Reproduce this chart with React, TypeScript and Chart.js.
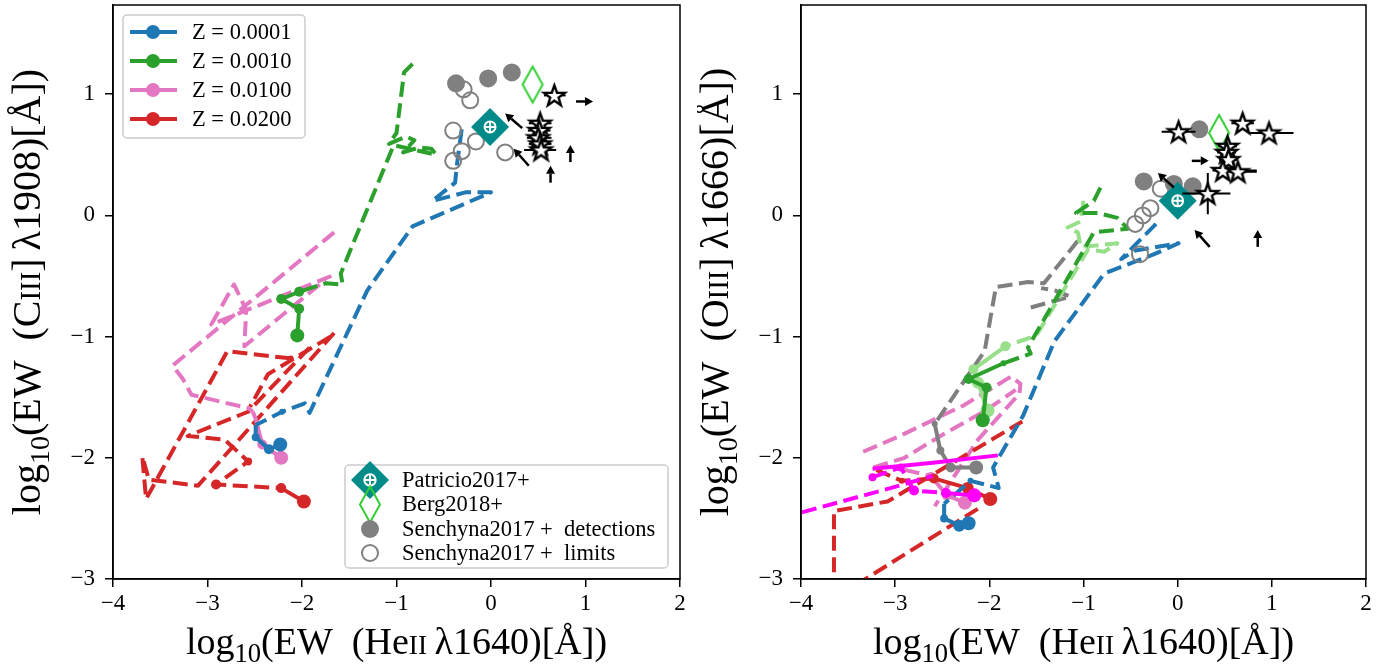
import React, { useEffect, useRef } from "react";
import { Chart, registerables } from "chart.js";
Chart.register(...registerables);

// ---------------- data ----------------
const X_TICKS = [-4, -3, -2, -1, 0, 1, 2];
const Y_TICKS = [-3, -2, -1, 0, 1];
const X_MIN = -4, X_MAX = 2, Y_MIN = -3, Y_MAX = 1.736;

const metallicityLabels = ["Z = 0.0001", "Z = 0.0010", "Z = 0.0100", "Z = 0.0200"];
const obsLabels = ["Patricio2017+", "Berg2018+", "Senchyna2017 +  detections", "Senchyna2017 +  limits"];

// left panel: log EW(HeII) vs log EW(CIII])
const leftBlue = [[-0.31, 0.71], [-0.36, 0.42], [-0.38, 0.27], [-0.62, 0.12], [-0.27, 0.19], [0.0, 0.19], [-0.83, -0.09], [-1.31, -0.62], [-1.92, -1.63], [-1.97, -1.55], [-2.21, -1.62], [-2.49, -1.73], [-2.49, -1.83], [-2.35, -1.93], [-2.23, -1.89]];
const leftGreen = [[-0.83, 1.25], [-0.92, 1.18], [-1.0, 0.68], [-1.08, 0.59], [-0.9, 0.65], [-0.81, 0.62], [-0.93, 0.52], [-0.76, 0.56], [-0.63, 0.55], [-0.58, 0.5], [-1.03, 0.58], [-1.59, -0.48], [-1.57, -0.57], [-1.75, -0.56], [-2.03, -0.63], [-2.22, -0.69], [-2.03, -0.77], [-2.05, -0.99]];
const leftPink1 = [[-1.66, -0.14], [-3.37, -1.24], [-3.26, -1.35], [-3.17, -1.48], [-2.57, -1.59], [-2.52, -1.62], [-2.49, -1.68], [-2.42, -1.89], [-2.22, -2.0]];
const leftPink2 = [[-1.69, -0.5], [-2.96, -0.9], [-2.72, -0.57], [-2.59, -0.78], [-2.61, -1.08], [-1.75, -0.53]];
const leftRed1 = [[-1.66, -0.97], [-3.1, -2.23], [-3.62, -2.18], [-3.69, -1.99], [-3.65, -2.34], [-2.79, -1.12], [-2.12, -1.18]];
const leftRed2 = [[-1.92, -1.09], [-2.57, -1.62], [-3.21, -1.82], [-2.82, -1.85], [-2.68, -1.95], [-2.57, -2.03], [-2.91, -2.22], [-2.22, -2.25], [-1.98, -2.36]];
const leftRed3 = [[-1.7, -1.0], [-2.36, -1.31], [-2.55, -1.58]];

const leftDetX = [-0.37, -0.03, 0.22];
const leftDetY = [1.09, 1.13, 1.18];
const leftLimX = [-0.29, -0.22, -0.4, -0.31, -0.4, -0.16, 0.15];
const leftLimY = [1.04, 0.95, 0.7, 0.53, 0.45, 0.61, 0.52];
const leftPatricio = [-0.01, 0.73];
const leftBerg = [0.44, 1.08];
const leftStarX = [0.67, 0.52, 0.51, 0.5, 0.52, 0.53];
const leftStarY = [0.99, 0.76, 0.7, 0.64, 0.59, 0.54];
const leftStarXerrLo = [0.11, 0.12, 0.12, 0.12, 0.12, 0.18];
const leftStarXerrHi = [0.12, 0.12, 0.12, 0.14, 0.12, 0.16];
const leftStarYerr = [0, 0, 0, 0, 0, 0];
const leftArrowTail = [[0.9, 0.94], [0.33, 0.72], [0.4, 0.41], [0.84, 0.44], [0.63, 0.27]];
const leftArrowHead = [[1.08, 0.94], [0.15, 0.84], [0.24, 0.55], [0.84, 0.58], [0.63, 0.41]];

// right panel: log EW(HeII) vs log EW(OIII])
const rightBlue = [[-0.23, -0.07], [-0.6, -0.36], [-0.45, -0.29], [0.01, -0.23], [-0.25, -0.32], [-0.78, -0.48], [-1.31, -1.04], [-1.64, -1.65], [-1.96, -2.08], [-1.9, -2.25], [-2.2, -2.19], [-2.48, -2.38], [-2.48, -2.5], [-2.32, -2.56], [-2.22, -2.54]];
const rightGreen = [[-0.82, 0.23], [-0.89, 0.12], [-1.08, 0.02], [-0.85, 0.02], [-0.64, -0.02], [-0.53, -0.11], [-0.89, -0.14], [-1.59, -1.09], [-1.56, -1.14], [-1.85, -1.22], [-2.22, -1.35], [-2.03, -1.42], [-2.07, -1.69]];
const rightLightGreen = [[-1.0, 0.12], [-1.03, -0.05], [-1.17, -0.1], [-1.06, -0.14], [-1.03, -0.26], [-0.64, -0.23], [-0.78, -0.3], [-0.95, -0.28], [-1.5, -0.99], [-1.83, -1.08], [-2.17, -1.27], [-2.12, -1.38], [-2.02, -1.61]];
const rightGray1 = [[-1.06, -0.21], [-1.42, -0.56], [-1.59, -0.55], [-1.93, -0.59], [-2.05, -1.12], [-2.58, -1.72], [-2.52, -1.94], [-2.41, -2.08], [-2.14, -2.08]];
const rightGray2 = [[-1.56, -0.76], [-1.14, -0.67], [-1.3, -0.62], [-1.45, -0.6]];
const rightPink1 = [[-3.34, -1.95], [-2.95, -1.82], [-2.28, -1.57], [-1.77, -1.33], [-1.67, -1.39], [-1.68, -1.47], [-2.12, -1.85], [-2.58, -2.4]];
const rightPink2 = [[-3.23, -2.08], [-2.9, -2.0], [-2.52, -1.82], [-2.06, -1.62], [-1.72, -1.44]];
const rightPink3 = [[-2.9, -2.1], [-2.62, -2.15], [-2.45, -2.31], [-2.26, -2.37]];
const rightRed1 = [[-3.65, -3.3], [-3.65, -2.44], [-3.08, -2.36], [-1.65, -1.7]];
const rightRed2 = [[-3.42, -3.05], [-2.12, -2.42]];
const rightRed3 = [[-3.2, -2.1], [-2.93, -2.19], [-2.59, -2.17], [-2.23, -2.25], [-1.99, -2.34]];
const rightMagenta1 = [[-3.99, -2.45], [-3.05, -2.25], [-2.6, -2.15]];
const rightMagenta2 = [[-3.24, -2.09], [-2.6, -2.04], [-1.91, -1.98]];
const rightMagenta3 = [[-3.24, -2.16], [-2.94, -2.08], [-2.8, -2.27], [-2.46, -2.29], [-2.16, -2.31]];

const rightDetX = [-0.36, -0.04, 0.16, 0.23];
const rightDetY = [0.28, 0.26, 0.24, 0.71];
const rightLimX = [-0.18, -0.29, -0.37, -0.45, -0.4];
const rightLimY = [0.22, 0.06, 0.0, -0.07, -0.32];
const rightPatricio = [0.0, 0.12];
const rightBerg = [0.44, 0.68];
const rightStarX = [0.01, 0.69, 0.97, 0.53, 0.52, 0.54, 0.48, 0.64, 0.32];
const rightStarY = [0.69, 0.76, 0.68, 0.57, 0.52, 0.46, 0.37, 0.36, 0.18];
const rightStarXerrLo = [0.18, 0.12, 0.22, 0.1, 0.1, 0.1, 0.11, 0.1, 0.27];
const rightStarXerrHi = [0.18, 0.12, 0.26, 0.1, 0.1, 0.1, 0.36, 0.2, 0.24];
const rightStarYerr = [0, 0, 0, 0.05, 0.05, 0.05, 0, 0, 0.17];
const rightArrowTail = [[0.15, 0.45], [-0.04, 0.23], [0.34, -0.26], [0.85, -0.26]];
const rightArrowHead = [[0.33, 0.45], [-0.21, 0.35], [0.18, -0.12], [0.85, -0.12]];

// ---------------- styles ----------------
const FONT = "'Liberation Serif', 'DejaVu Serif', serif";
const COL = {
  blue: "#1f77b4", green: "#2ca02c", lightGreen: "#98df8a", pink: "#e377c2", red: "#d62728",
  gray: "#7f7f7f", magenta: "#ff00ff", teal: "#008b8b", lime: "#32cd32", obs: "#808080",
};
const DASH = [15, 6.5];

interface TrackSpec { pts: number[][]; color: string; markers?: number[]; solid?: number; dashed?: boolean }

const leftTracks: TrackSpec[] = [
  { pts: leftRed1, color: COL.red, markers: [3], solid: 0 },
  { pts: leftRed3, color: COL.red, markers: [0], solid: 0 },
  { pts: leftRed2, color: COL.red, markers: [4, 5, 5, 7], solid: 1 },
  { pts: leftPink2, color: COL.pink, markers: [], solid: 0 },
  { pts: leftPink1, color: COL.pink, markers: [5, 7], solid: 3 },
  { pts: leftBlue, color: COL.blue, markers: [3, 0, 4, 5, 7], solid: 3 },
  { pts: leftGreen, color: COL.green, markers: [5, 5, 5, 7], solid: 3 },
];
const rightTracks: TrackSpec[] = [
  { pts: rightPink1, color: COL.pink, solid: 0 },
  { pts: rightPink2, color: COL.pink, solid: 0 },
  { pts: rightPink3, color: COL.pink, markers: [0, 4, 5, 7], solid: 2 },
  { pts: rightRed1, color: COL.red, solid: 0 },
  { pts: rightRed2, color: COL.red, solid: 0 },
  { pts: rightRed3, color: COL.red, markers: [3, 5, 6, 7], solid: 2 },
  { pts: rightBlue, color: COL.blue, markers: [3, 0, 4, 6, 7], solid: 3 },
  { pts: rightGray2, color: COL.gray, solid: 0 },
  { pts: rightGray1, color: COL.gray, markers: [3, 4, 5, 7], solid: 3 },
  { pts: rightLightGreen, color: COL.lightGreen, markers: [5, 5, 6, 7], solid: 3 },
  { pts: rightGreen, color: COL.green, markers: [3, 5, 5, 7], solid: 3 },
  { pts: rightMagenta1, color: COL.magenta, solid: 0 },
  { pts: rightMagenta2, color: COL.magenta, dashed: false },
  { pts: rightMagenta3, color: COL.magenta, markers: [4, 4, 5, 5, 7], solid: 1 },
];

type Run = [string, number, number];
const xTitleRuns: Run[] = [["log", 1, 0], ["10", 0.7, 0.22], ["(EW\u2002(He", 1, 0], ["II", 0.72, 0], ["\u2009\u03bb1640)[\u00c5])", 1, 0]];
const leftYTitleRuns: Run[] = [["log", 1, 0], ["10", 0.7, 0.22], ["(EW\u2002(C", 1, 0], ["III", 0.72, 0], ["]\u2009\u03bb1908)[\u00c5])", 1, 0]];
const rightYTitleRuns: Run[] = [["log", 1, 0], ["10", 0.7, 0.22], ["(EW\u2002(O", 1, 0], ["III", 0.72, 0], ["]\u2009\u03bb1666)[\u00c5])", 1, 0]];

function fmt(v: number) {
  return v < 0 ? "\u2212" + Math.abs(v) : String(v);
}

function makeStar(R: number, lw: number) {
  const size = Math.ceil(2 * R + 2 * lw + 2);
  const c = document.createElement("canvas");
  c.width = size; c.height = size;
  const ctx = c.getContext("2d")!;
  const cx = size / 2, cy = size / 2 + 0.8, r = R * 0.4;
  ctx.beginPath();
  for (let i = 0; i < 10; i++) {
    const a = -Math.PI / 2 + (i * Math.PI) / 5;
    const rr = i % 2 ? r : R;
    ctx.lineTo(cx + rr * Math.cos(a), cy + rr * Math.sin(a));
  }
  ctx.closePath();
  ctx.fillStyle = "#fff"; ctx.fill();
  ctx.lineWidth = lw; ctx.strokeStyle = "#000"; ctx.lineJoin = "miter"; ctx.stroke();
  return c;
}

function thinDiamondPath(ctx: CanvasRenderingContext2D, x: number, y: number, hw: number, hh: number) {
  ctx.beginPath();
  ctx.moveTo(x, y - hh); ctx.lineTo(x + hw, y); ctx.lineTo(x, y + hh); ctx.lineTo(x - hw, y); ctx.closePath();
}

function makeThinDiamond(hw: number, hh: number, lw: number, color: string) {
  const c = document.createElement("canvas");
  c.width = Math.ceil(2 * hw + 2 * lw + 2); c.height = Math.ceil(2 * hh + 2 * lw + 2);
  const ctx = c.getContext("2d")!;
  thinDiamondPath(ctx, c.width / 2, c.height / 2, hw, hh);
  ctx.lineWidth = lw; ctx.strokeStyle = color; ctx.lineJoin = "miter"; ctx.stroke();
  return c;
}

function drawPatricio(ctx: CanvasRenderingContext2D, x: number, y: number, r: number) {
  ctx.beginPath();
  ctx.moveTo(x, y - r); ctx.lineTo(x + r, y); ctx.lineTo(x, y + r); ctx.lineTo(x - r, y); ctx.closePath();
  ctx.fillStyle = COL.teal; ctx.fill();
  ctx.strokeStyle = "#fff"; ctx.lineWidth = 2;
  ctx.beginPath(); ctx.arc(x, y, r * 0.3, 0, Math.PI * 2); ctx.stroke();
  ctx.beginPath(); ctx.moveTo(x - r * 0.3, y); ctx.lineTo(x + r * 0.3, y); ctx.moveTo(x, y - r * 0.3); ctx.lineTo(x, y + r * 0.3); ctx.stroke();
}

function drawRich(ctx: CanvasRenderingContext2D, runs: Run[], x: number, y: number, size: number, rotate: boolean) {
  ctx.save();
  ctx.translate(x, y);
  if (rotate) ctx.rotate(-Math.PI / 2);
  ctx.textBaseline = "alphabetic";
  ctx.textAlign = "left";
  ctx.fillStyle = "#000";
  let total = 0;
  const widths = runs.map(([t, s]) => {
    ctx.font = `${size * s}px ${FONT}`;
    const w = ctx.measureText(t).width;
    total += w;
    return w;
  });
  let cx = -total / 2;
  runs.forEach(([t, s, dy], i) => {
    ctx.font = `${size * s}px ${FONT}`;
    ctx.fillText(t, cx, dy * size);
    cx += widths[i];
  });
  ctx.restore();
}

function roundRect(ctx: CanvasRenderingContext2D, x: number, y: number, w: number, h: number, r: number) {
  ctx.beginPath();
  ctx.moveTo(x + r, y);
  ctx.arcTo(x + w, y, x + w, y + h, r);
  ctx.arcTo(x + w, y + h, x, y + h, r);
  ctx.arcTo(x, y + h, x, y, r);
  ctx.arcTo(x, y, x + w, y, r);
  ctx.closePath();
}

function trackDataset(t: TrackSpec, order: number) {
  const n = t.pts.length;
  const m = t.markers ?? [];
  const k = m.length;
  const solid = t.solid ?? 0;
  const dash = t.dashed === false ? [] : DASH;
  return {
    data: t.pts.map((p) => ({ x: p[0], y: p[1] })),
    showLine: true,
    borderColor: t.color,
    backgroundColor: t.color,
    borderWidth: 4,
    borderDash: dash,
    borderCapStyle: "butt",
    borderJoinStyle: "round",
    segment: {
      borderDash: (ctx: any) => (ctx.p0DataIndex >= n - 1 - solid ? [] : dash),
    },
    pointRadius: (ctx: any) => {
      const j = ctx.dataIndex - (n - k);
      return j >= 0 ? m[j] : 0;
    },
    pointBorderWidth: 0,
    pointHoverRadius: 0,
    order,
  };
}

interface PanelSpec {
  tracks: TrackSpec[];
  detX: number[]; detY: number[];
  limX: number[]; limY: number[];
  patricio: number[]; berg: number[];
  starX: number[]; starY: number[]; starXLo: number[]; starXHi: number[]; starYErr: number[];
  arrowTail: number[][]; arrowHead: number[][];
  yRuns: Run[];
  yScaleWidth: number;
  padRight: number;
  legends: boolean;
}

function buildConfig(p: PanelSpec) {
  const star = makeStar(11, 2.4);
  const berg = makeThinDiamond(10, 18, 2, COL.lime);
  const datasets: any[] = [];
  p.tracks.forEach((t, i) => datasets.push(trackDataset(t, 100 - i)));
  datasets.push({
    data: p.detX.map((x, i) => ({ x, y: p.detY[i] })),
    pointRadius: 9, pointBackgroundColor: COL.obs, pointBorderWidth: 0, pointHoverRadius: 0, order: 6,
  });
  datasets.push({
    data: p.limX.map((x, i) => ({ x, y: p.limY[i] })),
    pointRadius: 8, pointBackgroundColor: "rgba(0,0,0,0)", pointBorderColor: COL.obs, pointBorderWidth: 2, pointHoverRadius: 0, order: 5,
  });
  datasets.push({
    data: [{ x: p.patricio[0], y: p.patricio[1] }],
    pointStyle: "rectRot", pointRadius: 19, pointBackgroundColor: COL.teal, pointBorderWidth: 0, pointHoverRadius: 0, order: 4,
  });
  datasets.push({
    data: [{ x: p.patricio[0], y: p.patricio[1] }],
    pointStyle: "circle", pointRadius: 5.5, pointBackgroundColor: "rgba(0,0,0,0)", pointBorderColor: "#fff", pointBorderWidth: 2, pointHoverRadius: 0, order: 3,
  });
  datasets.push({
    data: [{ x: p.patricio[0], y: p.patricio[1] }],
    pointStyle: "cross", pointRadius: 5.5, pointBorderColor: "#fff", pointBorderWidth: 2, pointHoverRadius: 0, order: 3,
  });
  datasets.push({
    data: [{ x: p.berg[0], y: p.berg[1] }],
    pointStyle: berg, pointRadius: 18, pointHoverRadius: 0, order: 2,
  });
  const starIndex = datasets.length;
  datasets.push({
    data: p.starX.map((x, i) => ({ x, y: p.starY[i] })),
    pointStyle: star, pointRadius: 11, pointHoverRadius: 0, order: 1,
  });

  const plugin = {
    id: "panelDecor",
    beforeDatasetDraw(chart: any, args: any) {
      if (args.index !== starIndex) return;
      const ctx = chart.ctx as CanvasRenderingContext2D;
      const xs = chart.scales.x, ys = chart.scales.y;
      ctx.save();
      ctx.strokeStyle = "#000"; ctx.lineWidth = 2;
      p.starX.forEach((x, i) => {
        const y = p.starY[i];
        ctx.beginPath();
        ctx.moveTo(xs.getPixelForValue(x - p.starXLo[i]), ys.getPixelForValue(y));
        ctx.lineTo(xs.getPixelForValue(x + p.starXHi[i]), ys.getPixelForValue(y));
        if (p.starYErr[i] > 0) {
          ctx.moveTo(xs.getPixelForValue(x), ys.getPixelForValue(y - p.starYErr[i]));
          ctx.lineTo(xs.getPixelForValue(x), ys.getPixelForValue(y + p.starYErr[i]));
        }
        ctx.stroke();
      });
      ctx.restore();
    },
    afterDatasetsDraw(chart: any) {
      const ctx = chart.ctx as CanvasRenderingContext2D;
      const xs = chart.scales.x, ys = chart.scales.y;
      const a = chart.chartArea;
      ctx.save();
      // arrows (limits)
      ctx.strokeStyle = "#000"; ctx.fillStyle = "#000"; ctx.lineWidth = 2.5;
      p.arrowTail.forEach((t, i) => {
        const h = p.arrowHead[i];
        const x0 = xs.getPixelForValue(t[0]), y0 = ys.getPixelForValue(t[1]);
        const x1 = xs.getPixelForValue(h[0]), y1 = ys.getPixelForValue(h[1]);
        const ang = Math.atan2(y1 - y0, x1 - x0);
        const hl = 8, hw = 4.5;
        const bx = x1 - hl * Math.cos(ang), by = y1 - hl * Math.sin(ang);
        ctx.beginPath(); ctx.moveTo(x0, y0); ctx.lineTo(bx, by); ctx.stroke();
        ctx.beginPath();
        ctx.moveTo(x1, y1);
        ctx.lineTo(bx + hw * Math.sin(ang), by - hw * Math.cos(ang));
        ctx.lineTo(bx - hw * Math.sin(ang), by + hw * Math.cos(ang));
        ctx.closePath(); ctx.fill();
      });
      // frame
      ctx.strokeStyle = "#000"; ctx.lineWidth = 1.5;
      ctx.strokeRect(a.left, a.top, a.right - a.left, a.bottom - a.top);

      if (p.legends) {
        // metallicity legend (upper left)
        const colors = [COL.blue, COL.green, COL.pink, COL.red];
        let bx = a.left + 10, by = a.top + 10;
        roundRect(ctx, bx, by, 182, 123, 4);
        ctx.fillStyle = "rgba(255,255,255,0.8)"; ctx.fill();
        ctx.strokeStyle = "#cccccc"; ctx.lineWidth = 1.5; ctx.stroke();
        ctx.font = `22.5px ${FONT}`; ctx.textBaseline = "middle"; ctx.textAlign = "left";
        metallicityLabels.forEach((lab, i) => {
          const yy = by + 17 + i * 29;
          ctx.strokeStyle = colors[i]; ctx.lineWidth = 4;
          ctx.beginPath(); ctx.moveTo(bx + 7, yy); ctx.lineTo(bx + 54, yy); ctx.stroke();
          ctx.fillStyle = colors[i];
          ctx.beginPath(); ctx.arc(bx + 30, yy, 7, 0, Math.PI * 2); ctx.fill();
          ctx.fillStyle = "#000";
          ctx.fillText(lab, bx + 69, yy + 1);
        });
        // observation legend (lower right)
        bx = a.right - 335; by = a.bottom - 114;
        roundRect(ctx, bx, by, 323, 103, 4);
        ctx.fillStyle = "rgba(255,255,255,0.8)"; ctx.fill();
        ctx.strokeStyle = "#cccccc"; ctx.lineWidth = 1.5; ctx.stroke();
        const rows = [15, 39.5, 64, 88];
        const mx = bx + 25;
        drawPatricio(ctx, mx, by + rows[0], 19);
        thinDiamondPath(ctx, mx, by + rows[1], 10, 18);
        ctx.strokeStyle = COL.lime; ctx.lineWidth = 2; ctx.stroke();
        ctx.fillStyle = COL.obs;
        ctx.beginPath(); ctx.arc(mx, by + rows[2], 9, 0, Math.PI * 2); ctx.fill();
        ctx.strokeStyle = COL.obs; ctx.lineWidth = 2;
        ctx.beginPath(); ctx.arc(mx, by + rows[3], 8, 0, Math.PI * 2); ctx.stroke();
        ctx.fillStyle = "#000"; ctx.font = `22.5px ${FONT}`; ctx.textBaseline = "middle";
        obsLabels.forEach((lab, i) => ctx.fillText(lab, bx + 57, by + rows[i] + 1));
      }
      ctx.restore();
    },
    afterDraw(chart: any) {
      const ctx = chart.ctx as CanvasRenderingContext2D;
      const a = chart.chartArea;
      drawRich(ctx, xTitleRuns, (a.left + a.right) / 2, a.bottom + 75, 38, false);
      drawRich(ctx, p.yRuns, a.left - 73, (a.top + a.bottom) / 2, 40, true);
    },
  };

  const tickFont = { family: FONT, size: 23 };
  return {
    type: "scatter",
    data: { datasets },
    options: {
      responsive: false,
      animation: false,
      events: [],
      layout: { autoPadding: false, padding: { top: 5, right: p.padRight, bottom: 0, left: 0 } },
      plugins: { legend: { display: false }, tooltip: { enabled: false }, title: { display: false } },
      scales: {
        x: {
          type: "linear", min: X_MIN, max: X_MAX,
          afterBuildTicks: (s: any) => { s.ticks = X_TICKS.map((v) => ({ value: v })); },
          afterFit: (s: any) => { s.height = 92; s.paddingLeft = 0; s.paddingRight = 0; s.paddingTop = 0; s.paddingBottom = 0; },
          ticks: { font: tickFont, color: "#000", padding: 3, maxRotation: 0, autoSkip: false, callback: (v: any) => fmt(Number(v)) },
          grid: { drawOnChartArea: false, drawTicks: true, tickLength: 8, color: "#000", lineWidth: 1.5 },
          border: { display: true, color: "#000", width: 1.5 },
        },
        y: {
          type: "linear", min: Y_MIN, max: Y_MAX,
          afterBuildTicks: (s: any) => { s.ticks = Y_TICKS.map((v) => ({ value: v })); },
          afterFit: (s: any) => { s.width = p.yScaleWidth; s.paddingLeft = 0; s.paddingRight = 0; s.paddingTop = 0; s.paddingBottom = 0; },
          ticks: { font: tickFont, color: "#000", padding: 10, autoSkip: false, callback: (v: any) => fmt(Number(v)) },
          grid: { drawOnChartArea: false, drawTicks: true, tickLength: 8, color: "#000", lineWidth: 1.5 },
          border: { display: true, color: "#000", width: 1.5 },
        },
      },
    },
    plugins: [plugin],
  };
}

export default function App() {
  const leftRef = useRef<HTMLCanvasElement>(null);
  const rightRef = useRef<HTMLCanvasElement>(null);

  useEffect(() => {
    const left = new Chart(leftRef.current as HTMLCanvasElement, buildConfig({
      tracks: leftTracks,
      detX: leftDetX, detY: leftDetY, limX: leftLimX, limY: leftLimY,
      patricio: leftPatricio, berg: leftBerg,
      starX: leftStarX, starY: leftStarY, starXLo: leftStarXerrLo, starXHi: leftStarXerrHi, starYErr: leftStarYerr,
      arrowTail: leftArrowTail, arrowHead: leftArrowHead,
      yRuns: leftYTitleRuns, yScaleWidth: 113, padRight: 17, legends: true,
    }) as any);
    const right = new Chart(rightRef.current as HTMLCanvasElement, buildConfig({
      tracks: rightTracks,
      detX: rightDetX, detY: rightDetY, limX: rightLimX, limY: rightLimY,
      patricio: rightPatricio, berg: rightBerg,
      starX: rightStarX, starY: rightStarY, starXLo: rightStarXerrLo, starXHi: rightStarXerrHi, starYErr: rightStarYerr,
      arrowTail: rightArrowTail, arrowHead: rightArrowHead,
      yRuns: rightYTitleRuns, yScaleWidth: 104, padRight: 28, legends: false,
    }) as any);
    return () => { left.destroy(); right.destroy(); };
  }, []);

  return (
    <div style={{ position: "fixed", left: 0, top: 0, width: 1394, height: 671, background: "#fff" }}>
      <canvas ref={leftRef} width={697} height={671} style={{ position: "absolute", left: 0, top: 0, width: 697, height: 671 }} />
      <canvas ref={rightRef} width={697} height={671} style={{ position: "absolute", left: 697, top: 0, width: 697, height: 671 }} />
    </div>
  );
}
